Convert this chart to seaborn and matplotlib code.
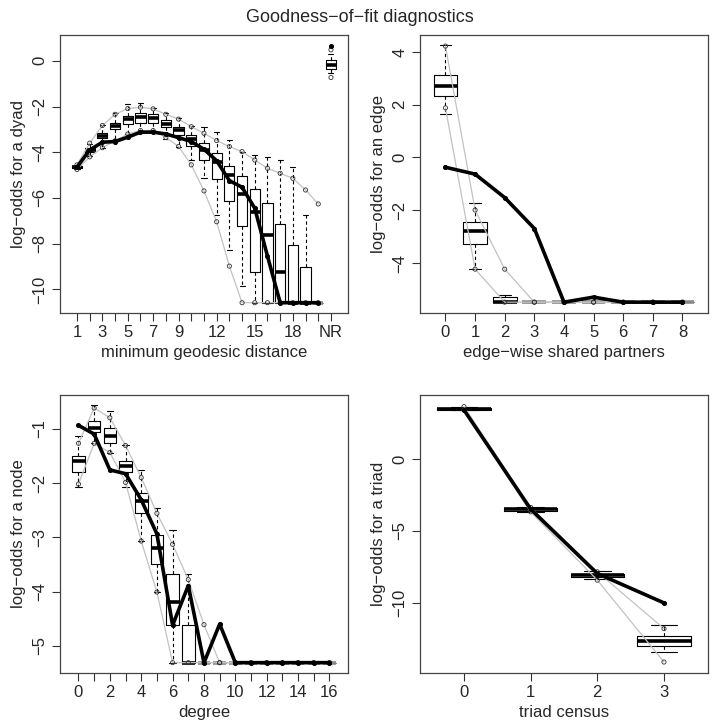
import numpy as np
import pandas as pd
import matplotlib
matplotlib.use("Agg")
import matplotlib.pyplot as plt
import seaborn as sns

sns.set_theme(style="white")
plt.rcParams["font.family"] = ["Liberation Sans", "DejaVu Sans"]
plt.rcParams["axes.unicode_minus"] = True

# ---------------- Panel 1: minimum geodesic distance ----------------
geo_pos = list(range(1, 21))
geo_nr_pos = 21
geo_tick_labels = ["1", "", "3", "", "5", "", "7", "", "9", "", "", "12", "", "", "15", "", "", "18", "", "", "NR"]
geo_whislo = [-4.75, -4.15, -3.80, -3.40, -3.20, -3.05, -3.05, -3.40, -3.75, -4.34, -5.14, -6.75, -8.28, -9.86, -10.58, -10.58, -10.58, -10.58, -10.58, -10.58, -0.55]
geo_q1 = [-4.70, -4.00, -3.39, -3.00, -2.76, -2.70, -2.70, -2.90, -3.24, -3.72, -4.34, -5.17, -6.12, -7.21, -9.23, -10.58, -10.58, -10.58, -10.58, -10.58, -0.36]
geo_med = [-4.65, -3.90, -3.28, -2.83, -2.55, -2.47, -2.51, -2.76, -3.02, -3.43, -3.90, -4.41, -4.99, -5.83, -6.63, -7.62, -9.23, -10.58, -10.58, -10.58, -0.18]
geo_q3 = [-4.60, -3.80, -3.14, -2.73, -2.41, -2.29, -2.34, -2.58, -2.88, -3.24, -3.61, -4.04, -4.60, -5.04, -5.62, -6.23, -7.15, -8.04, -9.01, -10.58, 0.04]
geo_whishi = [-4.55, -3.65, -2.80, -2.30, -1.90, -1.85, -2.05, -2.30, -2.50, -2.85, -2.88, -3.10, -3.46, -3.97, -4.12, -4.19, -4.34, -4.63, -6.75, -10.58, 0.30]
geo_upper = [-4.55, -3.60, -2.83, -2.34, -2.09, -2.03, -2.10, -2.34, -2.55, -2.88, -3.17, -3.49, -3.75, -3.97, -4.34, -4.70, -4.92, -5.14, -5.65, -6.26]
geo_lower = [-4.75, -4.20, -3.80, -3.50, -3.20, -3.05, -3.05, -3.35, -3.75, -4.55, -5.69, -7.04, -8.98, -10.58, -10.58, -10.58, -10.58, -10.58, -10.58, -10.58]
geo_obs = [-4.65, -3.90, -3.56, -3.53, -3.34, -3.12, -3.12, -3.20, -3.36, -3.53, -3.87, -4.37, -5.24, -5.53, -6.45, -8.54, -10.58, -10.58, -10.58, -10.58]
geo_nr_bounds = [0.48, -0.73]
geo_nr_obs = 0.63

# ---------------- Panel 2: edge-wise shared partners ----------------
esp_pos = list(range(0, 9))
esp_whislo = [1.65, -4.23, -5.48, -5.48, -5.48, -5.48, -5.48, -5.48, -5.48]
esp_q1 = [2.32, -3.26, -5.48, -5.48, -5.48, -5.48, -5.48, -5.48, -5.48]
esp_med = [2.72, -2.78, -5.48, -5.48, -5.48, -5.48, -5.48, -5.48, -5.48]
esp_q3 = [3.12, -2.46, -5.29, -5.48, -5.48, -5.48, -5.48, -5.48, -5.48]
esp_whishi = [4.26, -1.74, -5.22, -5.48, -5.48, -5.48, -5.48, -5.48, -5.48]
esp_upper = [4.22, -1.99, -4.23, -5.48, -5.48, -5.48, -5.48, -5.48, -5.48]
esp_lower = [1.88, -4.23, -5.48, -5.48, -5.48, -5.48, -5.48, -5.48, -5.48]
esp_obs = [-0.37, -0.63, -1.52, -2.69, -5.48, -5.29, -5.48, -5.48, -5.48]

# ---------------- Panel 3: degree ----------------
deg_pos = list(range(0, 17))
deg_whislo = [-2.07, -1.27, -1.44, -2.07, -3.07, -4.01, -5.31] + [-5.31] * 10
deg_q1 = [-1.80, -1.06, -1.27, -1.80, -2.55, -3.49, -4.62] + [-5.31] * 10
deg_med = [-1.60, -0.99, -1.13, -1.69, -2.33, -3.19, -4.20] + [-5.31] * 10
deg_q3 = [-1.51, -0.86, -0.99, -1.59, -2.18, -2.96, -3.67, -4.62] + [-5.31] * 9
deg_whishi = [-1.14, -0.57, -0.68, -1.31, -1.76, -2.47, -2.87, -3.67] + [-5.31] * 9
deg_upper = [-1.27, -0.62, -0.80, -1.31, -1.90, -2.56, -3.13, -3.78, -4.61] + [-5.31] * 8
deg_lower = [-2.02, -1.27, -1.44, -1.99, -3.07, -4.01] + [-5.31] * 11
deg_obs = [-0.94, -1.10, -1.76, -1.83, -2.31, -2.94, -4.62, -3.89, -5.31, -4.60] + [-5.31] * 7

# ---------------- Panel 4: triad census ----------------
tri_pos = [0, 1, 2, 3]
tri_whislo = [3.38, -3.67, -8.35, -13.41]
tri_q1 = [3.44, -3.60, -8.19, -13.02]
tri_med = [3.48, -3.50, -8.07, -12.67]
tri_q3 = [3.52, -3.40, -7.96, -12.32]
tri_whishi = [3.60, -3.34, -7.80, -11.55]
tri_upper = [3.64, -3.36, -7.84, -11.79]
tri_lower = [3.41, -3.67, -8.42, -14.11]
tri_obs = [3.41, -3.48, -7.96, -10.00]

FS = 12
BOX_LW = 0.8


def draw_boxes(ax, pos, lo, q1, med, q3, hi):
    stats = []
    for a, b, c, d, e in zip(lo, q1, med, q3, hi):
        stats.append(dict(whislo=a, q1=b, med=c, q3=d, whishi=e, fliers=[]))
    art = ax.bxp(stats, positions=pos, widths=0.8, showfliers=False,
                 manage_ticks=False,
                 boxprops=dict(color="black", lw=BOX_LW),
                 whiskerprops=dict(color="black", lw=BOX_LW, linestyle=(0, (3, 2.5))),
                 capprops=dict(color="black", lw=BOX_LW),
                 medianprops=dict(color="black", lw=2.6, solid_capstyle="butt"))
    for i, (a, e) in enumerate(zip(lo, hi)):
        if abs(e - a) < 1e-9:
            art["medians"][i].set_color("#8a8a8a")
            art["boxes"][i].set_color("#8a8a8a")
    return art


def draw_lines(ax, pos, upper, lower, obs):
    for band in (upper, lower):
        sns.lineplot(x=pos, y=band, ax=ax, color="#c2c2c2", lw=0.9,
                     estimator=None, sort=False, zorder=3)
        ax.scatter(pos, band, s=9, facecolors="none", edgecolors="#333333",
                   linewidths=0.6, zorder=4)
    sns.lineplot(x=pos, y=obs, ax=ax, color="black", lw=2.6,
                 estimator=None, sort=False, zorder=5)
    ax.scatter(pos, obs, s=7, color="black", zorder=6)


def style(ax, xlabel, ylabel):
    ax.set_xlabel(xlabel, fontsize=FS, labelpad=3)
    ax.set_ylabel(ylabel, fontsize=FS, labelpad=5)
    for sp in ax.spines.values():
        sp.set_visible(True)
        sp.set_color("#444444")
        sp.set_linewidth(0.9)
    ax.tick_params(axis="both", which="both", direction="out", length=6,
                   width=0.8, color="#333333", labelsize=FS, pad=3,
                   bottom=True, left=True)
    ax.tick_params(axis="y", labelrotation=90)
    for lab in ax.get_yticklabels():
        lab.set_va("center")
    ax.grid(False)
    ax.set_facecolor("white")


fig = plt.figure(figsize=(7.2, 7.2), dpi=100)
W, H = 0.4, 0.3861
ax1 = fig.add_axes([0.0833, 0.5653, W, H])
ax2 = fig.add_axes([0.5833, 0.5653, W, H])
ax3 = fig.add_axes([0.0833, 0.0653, W, H])
ax4 = fig.add_axes([0.5833, 0.0653, W, H])

# Panel 1
draw_boxes(ax1, geo_pos + [geo_nr_pos], geo_whislo, geo_q1, geo_med, geo_q3, geo_whishi)
draw_lines(ax1, geo_pos, geo_upper, geo_lower, geo_obs)
ax1.scatter([geo_nr_pos] * 2, geo_nr_bounds, s=9, facecolors="none",
            edgecolors="#333333", linewidths=0.6, zorder=4)
ax1.scatter([geo_nr_pos], [geo_nr_obs], s=7, color="black", zorder=6)
ax1.set_xlim(-0.34, 22.34)
ax1.set_ylim(-11.03, 1.13)
ax1.set_xticks(list(range(1, 22)))
ax1.set_xticklabels(geo_tick_labels)
ax1.set_yticks([0, -2, -4, -6, -8, -10])
style(ax1, "minimum geodesic distance", "log\u2212odds for a dyad")

# Panel 2
draw_boxes(ax2, esp_pos, esp_whislo, esp_q1, esp_med, esp_q3, esp_whishi)
draw_lines(ax2, esp_pos, esp_upper, esp_lower, esp_obs)
ax2.set_xlim(-0.86, 8.86)
ax2.set_ylim(-5.89, 4.64)
ax2.set_xticks(esp_pos)
ax2.set_yticks([4, 2, 0, -2, -4])
style(ax2, "edge\u2212wise shared partners", "log\u2212odds for an edge")

# Panel 3
draw_boxes(ax3, deg_pos, deg_whislo, deg_q1, deg_med, deg_q3, deg_whishi)
draw_lines(ax3, deg_pos, deg_upper, deg_lower, deg_obs)
ax3.set_xlim(-1.18, 17.18)
ax3.set_ylim(-5.50, -0.38)
ax3.set_xticks(deg_pos)
ax3.set_xticklabels([str(d) if d % 2 == 0 else "" for d in deg_pos])
ax3.set_yticks([-1, -2, -3, -4, -5])
style(ax3, "degree", "log\u2212odds for a node")

# Panel 4
draw_boxes(ax4, tri_pos, tri_whislo, tri_q1, tri_med, tri_q3, tri_whishi)
draw_lines(ax4, tri_pos, tri_upper, tri_lower, tri_obs)
ax4.set_xlim(-0.66, 3.66)
ax4.set_ylim(-14.87, 4.45)
ax4.set_xticks(tri_pos)
ax4.set_yticks([0, -5, -10])
style(ax4, "triad census", "log\u2212odds for a triad")

fig.text(0.5, 1 - 18 / 720, "Goodness\u2212of\u2212fit diagnostics", ha="center",
         va="center", fontsize=13)

fig.savefig("out.png", dpi=100, facecolor="white")
